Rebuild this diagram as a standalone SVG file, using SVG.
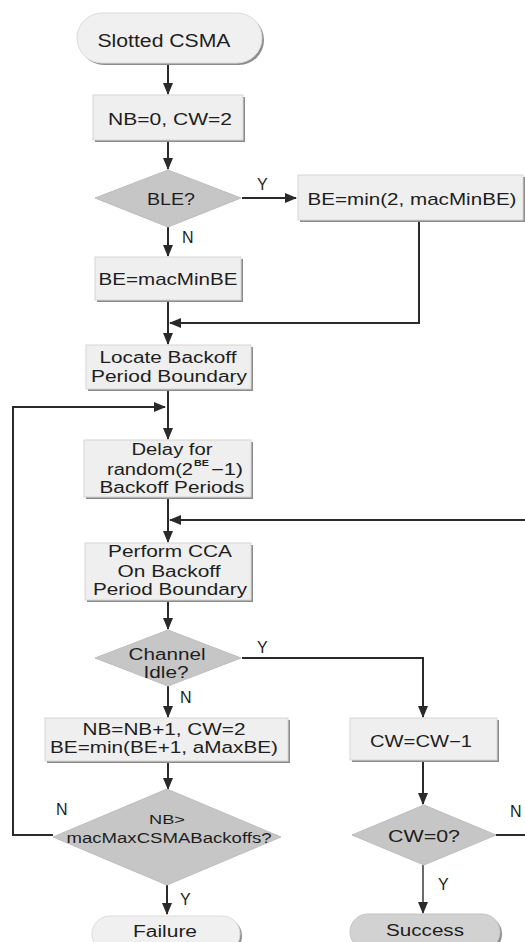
<svg xmlns="http://www.w3.org/2000/svg" width="525" height="942" viewBox="0 0 525 942">
  <style>
    .box { fill: #efefef; stroke: #d6d6d6; stroke-width: 1; }
    .shadow { fill: #8c8c8c; }
    .dia { fill: #c6c6c6; stroke: #bdbdbd; stroke-width: 1; }
    .term { fill: #f0f0f0; stroke: #dcdcdc; stroke-width: 1; }
    .termdark { fill: #d2d2d2; stroke: #c4c4c4; stroke-width: 1; }
    .t { font-family: "Liberation Sans", Arial, sans-serif; fill: #1e1e1e; text-anchor: middle; }
    .ts { font-family: "Liberation Sans", Arial, sans-serif; fill: #1e1e1e; text-anchor: start; }
    .edge { fill: none; stroke: #2a2a2a; stroke-width: 2; }
    .lbl { font-family: "Liberation Sans", Arial, sans-serif; fill: #1e1e1e; font-size: 16px; }
  </style>
  <defs>
    <marker id="arrow" markerUnits="userSpaceOnUse" markerWidth="12" markerHeight="12" viewBox="0 0 12 12" refX="11" refY="6" orient="auto">
      <path d="M0,1 L12,6 L0,11 Z" fill="#2a2a2a"/>
    </marker>
  </defs>
  <rect width="525" height="942" fill="#ffffff"/>

  <!-- connectors -->
  <g id="connectors">
    <path class="edge" d="M168,63 V94" marker-end="url(#arrow)"/>
    <path class="edge" d="M168,142 V169" marker-end="url(#arrow)"/>
    <path class="edge" d="M242,198 H296" marker-end="url(#arrow)"/>
    <path class="edge" d="M168,227 V256" marker-end="url(#arrow)"/>
    <path class="edge" d="M419,222 V323 H170" marker-end="url(#arrow)"/>
    <path class="edge" d="M168,302 V344" marker-end="url(#arrow)"/>
    <path class="edge" d="M168,391 V439" marker-end="url(#arrow)"/>
    <path class="edge" d="M53,835 H13 V407 H165" marker-end="url(#arrow)"/>
    <path class="edge" d="M168,499 V542" marker-end="url(#arrow)"/>
    <path class="edge" d="M496,835 H532 V520 H170" marker-end="url(#arrow)"/>
    <path class="edge" d="M168,602 V629" marker-end="url(#arrow)"/>
    <path class="edge" d="M242,658 H423 V717" marker-end="url(#arrow)"/>
    <path class="edge" d="M168,686 V717" marker-end="url(#arrow)"/>
    <path class="edge" d="M168,763 V789" marker-end="url(#arrow)"/>
    <path class="edge" d="M423,762 V804" marker-end="url(#arrow)"/>
    <path class="edge" d="M167,885 V914" marker-end="url(#arrow)"/>
    <path class="edge" d="M423,865 V913" style="stroke:#6a6a6a" marker-end="url(#arrow)"/>
    <text class="lbl" x="257" y="190">Y</text>
    <text class="lbl" x="182" y="243">N</text>
    <text class="lbl" x="257" y="653">Y</text>
    <text class="lbl" x="180" y="703">N</text>
    <text class="lbl" x="56" y="815">N</text>
    <text class="lbl" x="180" y="905">Y</text>
    <text class="lbl" x="510" y="817">N</text>
    <text class="lbl" x="438" y="890">Y</text>
  </g>

  <!-- start -->
  <g id="start">
    <rect class="shadow" x="79" y="15" width="185" height="50" rx="25"/>
    <rect class="term" x="77" y="13" width="185" height="50" rx="25"/>
    <text class="t" x="164" y="47" font-size="18" textLength="133" lengthAdjust="spacingAndGlyphs">Slotted CSMA</text>
  </g>

  <g id="init">
    <rect class="shadow" x="95" y="97" width="150" height="45"/>
    <rect class="box" x="93" y="95" width="150" height="45"/>
    <text class="t" x="170" y="125" font-size="17" textLength="124" lengthAdjust="spacingAndGlyphs">NB=0, CW=2</text>
  </g>

  <g id="ble">
    <polygon class="dia" points="168,170 241,198 168,227 95,198"/>
    <text class="t" x="171" y="205" font-size="16" textLength="48" lengthAdjust="spacingAndGlyphs">BLE?</text>
  </g>

  <g id="be-min2">
    <rect class="shadow" x="300" y="177" width="225" height="45"/>
    <rect class="box" x="298" y="175" width="225" height="45"/>
    <text class="t" x="412" y="205" font-size="17" textLength="209" lengthAdjust="spacingAndGlyphs">BE=min(2, macMinBE)</text>
  </g>

  <g id="be-min">
    <rect class="shadow" x="97" y="259" width="146" height="43"/>
    <rect class="box" x="95" y="257" width="146" height="43"/>
    <text class="t" x="168" y="285" font-size="17" textLength="139" lengthAdjust="spacingAndGlyphs">BE=macMinBE</text>
  </g>

  <g id="locate">
    <rect class="shadow" x="88" y="347" width="165" height="44"/>
    <rect class="box" x="86" y="345" width="165" height="44"/>
    <text class="t" x="168" y="363" font-size="16" textLength="137" lengthAdjust="spacingAndGlyphs">Locate Backoff</text>
    <text class="t" x="169" y="382" font-size="16" textLength="156" lengthAdjust="spacingAndGlyphs">Period Boundary</text>
  </g>

  <g id="delay">
    <rect class="shadow" x="86" y="442" width="167" height="57"/>
    <rect class="box" x="84" y="440" width="167" height="57"/>
    <text class="t" x="172" y="455" font-size="16" textLength="81" lengthAdjust="spacingAndGlyphs">Delay for</text>
    <text class="ts" x="107" y="475" font-size="16" textLength="86" lengthAdjust="spacingAndGlyphs">random(2</text>
    <text class="ts" x="194" y="466" font-size="9" font-weight="bold" textLength="15" lengthAdjust="spacingAndGlyphs">BE</text>
    <text class="ts" x="211" y="475" font-size="16" textLength="32" lengthAdjust="spacingAndGlyphs">−1)</text>
    <text class="t" x="172" y="493" font-size="16" textLength="145" lengthAdjust="spacingAndGlyphs">Backoff Periods</text>
  </g>

  <g id="cca">
    <rect class="shadow" x="87" y="545" width="166" height="57"/>
    <rect class="box" x="85" y="543" width="166" height="57"/>
    <text class="t" x="170" y="557" font-size="16" textLength="124" lengthAdjust="spacingAndGlyphs">Perform CCA</text>
    <text class="t" x="169" y="577" font-size="16" textLength="103" lengthAdjust="spacingAndGlyphs">On Backoff</text>
    <text class="t" x="170" y="595" font-size="16" textLength="154" lengthAdjust="spacingAndGlyphs">Period Boundary</text>
  </g>

  <g id="channel-idle">
    <polygon class="dia" points="168,630 241,658 168,686 95,658"/>
    <text class="t" x="167" y="660" font-size="16" textLength="77" lengthAdjust="spacingAndGlyphs">Channel</text>
    <text class="t" x="166" y="678" font-size="16" textLength="45" lengthAdjust="spacingAndGlyphs">Idle?</text>
  </g>

  <g id="nb-inc">
    <rect class="shadow" x="47" y="720" width="243" height="43"/>
    <rect class="box" x="45" y="718" width="243" height="43"/>
    <text class="t" x="164" y="735" font-size="16" textLength="163" lengthAdjust="spacingAndGlyphs">NB=NB+1, CW=2</text>
    <text class="t" x="164" y="753" font-size="16" textLength="228" lengthAdjust="spacingAndGlyphs">BE=min(BE+1, aMaxBE)</text>
  </g>

  <g id="cw-dec">
    <rect class="shadow" x="352" y="720" width="147" height="42"/>
    <rect class="box" x="350" y="718" width="147" height="42"/>
    <text class="t" x="421" y="747" font-size="16" textLength="102" lengthAdjust="spacingAndGlyphs">CW=CW−1</text>
  </g>

  <g id="nb-max">
    <polygon class="dia" points="167,789 281,837 167,885 53,837"/>
    <text class="t" x="167" y="824" font-size="13" textLength="36" lengthAdjust="spacingAndGlyphs">NB&gt;</text>
    <text class="t" x="169" y="843" font-size="14" textLength="205" lengthAdjust="spacingAndGlyphs">macMaxCSMABackoffs?</text>
  </g>

  <g id="cw-zero">
    <polygon class="dia" points="424,805 496,835 424,865 352,835"/>
    <text class="t" x="424" y="842" font-size="16" textLength="72" lengthAdjust="spacingAndGlyphs">CW=0?</text>
  </g>

  <g id="failure">
    <rect class="shadow" x="94" y="918" width="148" height="36" rx="18"/>
    <rect class="term" x="92" y="916" width="148" height="36" rx="18"/>
    <text class="t" x="165" y="937" font-size="16" textLength="64" lengthAdjust="spacingAndGlyphs">Failure</text>
  </g>

  <g id="success">
    <rect class="shadow" x="352" y="916" width="150" height="36" rx="18"/>
    <rect class="termdark" x="350" y="914" width="150" height="36" rx="18"/>
    <text class="t" x="425" y="936" font-size="16" textLength="78" lengthAdjust="spacingAndGlyphs">Success</text>
  </g>
</svg>
